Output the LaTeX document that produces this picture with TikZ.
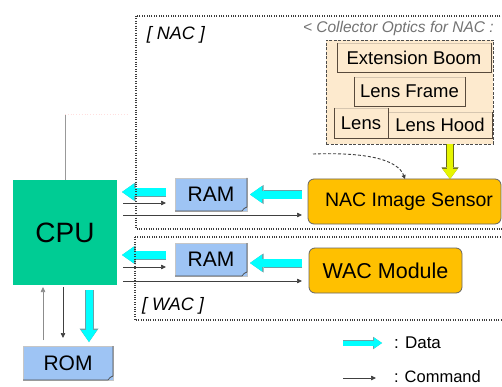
\documentclass[tikz,border=0pt]{standalone}
\usepackage{fontspec}
\setmainfont{Liberation Sans}
\usetikzlibrary{arrows.meta,calc}

\definecolor{cpugreen}{RGB}{0,204,148}
\definecolor{ramblue}{RGB}{158,196,244}
\definecolor{unitorange}{RGB}{255,192,0}
\definecolor{opticpeach}{RGB}{253,234,206}
\definecolor{opticlight}{RGB}{214,198,176}
\definecolor{opticdark}{RGB}{88,74,60}
\definecolor{flowcyan}{RGB}{0,255,255}
\definecolor{flowedge}{RGB}{110,160,165}
\definecolor{beamyellow}{RGB}{230,245,0}
\definecolor{beamedge}{RGB}{105,105,25}
\definecolor{frameline}{RGB}{60,60,60}

\newcommand{\fsz}[1]{\fontsize{#1}{#1}\selectfont}

\begin{document}
\begin{tikzpicture}[x=1pt,y=-1pt,
  every node/.style={inner sep=0pt,outer sep=0pt},
  cpubox/.style={fill=cpugreen,minimum width=104pt,minimum height=105pt,font=\fsz{28}},
  membox/.style={fill=ramblue,draw=gray!45,line width=0.4pt,font=\fsz{21}},
  memshade/.style={draw=black!70,line width=0.7pt},
  unitbox/.style={fill=unitorange,draw=black!60,line width=0.8pt,rounded corners=6pt},
  opticframe/.style={fill=opticpeach,draw=black!70,line width=0.8pt,dash pattern=on 3pt off 1.5pt},
  opticbox/.style={fill=opticpeach,draw=opticlight,line width=0.8pt,font=\fsz{18.5}},
  opticshade/.style={draw=opticdark,line width=0.8pt},
  framebox/.style={draw=frameline,line width=1.2pt,dash pattern=on 1pt off 1.4pt},
  framelabel/.style={font=\fsz{18}\itshape},
  dataflow/.style={flowcyan,line width=8pt,-{Triangle[length=12pt,width=17pt,line width=0pt]},
    preaction={draw=flowedge,line width=9pt,-{Triangle[length=13.5pt,width=19pt,line width=0pt]}}},
  cmdflow/.style={draw=black!75,line width=0.7pt,-{Triangle[length=5pt,width=4.5pt]}},
  beamflow/.style={beamyellow,line width=6pt,-{Triangle[length=10pt,width=15pt,line width=0pt]},
    preaction={draw=beamedge,line width=7.6pt,-{Triangle[length=11.5pt,width=17pt,line width=0pt]}}},
  hintflow/.style={draw=black!75,line width=0.9pt,dash pattern=on 3pt off 2pt,-{Triangle[length=4pt,width=4pt]}}
]
\clip (0,0) rectangle (502,387);
\fill[white] (0,0) rectangle (502,387);

% collector optics stack
\node[opticframe,minimum width=167pt,minimum height=104pt] (optics) at (409.5,92) {};
\node[opticbox,minimum width=154pt,minimum height=29pt] (boom) at (414,57.5) {Extension Boom};
\node[opticbox,minimum width=111pt,minimum height=29pt] (frame) at (409.5,91.5) {Lens Frame};
\node[opticbox,minimum width=104pt,minimum height=26pt] (hood) at (440,125) {Lens Hood};
\node[opticbox,minimum width=54pt,minimum height=30pt] (lens) at (361,123) {Lens};
\foreach \n in {boom,frame,hood,lens}
  \draw[opticshade] (\n.north west) -- (\n.south west) -- (\n.south east) -- (\n.north east);
\node[anchor=west,text=black!55,font=\fsz{15.5}\itshape] (optitle) at (303,28) {< Collector Optics for NAC :};

% processing units
\node[cpubox] (cpu) at (65,232.5) {CPU};
\node[membox,minimum width=72pt,minimum height=33pt] (ramnac) at (211,194.5) {RAM};
\node[membox,minimum width=72pt,minimum height=33pt] (ramwac) at (211,259.5) {RAM};
\node[membox,minimum width=90pt,minimum height=34pt] (rom) at (68,363) {ROM};
\foreach \n in {ramnac,ramwac,rom}
  \draw[memshade] (\n.north east) -- ($(\n.south east)+(0,-4)$) -- ($(\n.south east)+(-3,-2.5)$)
    -- ($(\n.south east)+(-5,0)$) -- (\n.south west);

% camera heads
\node[unitbox,minimum width=193pt,minimum height=45pt,font=\fsz{19.5}] (nacsensor) at (404.5,201.5) {\hspace*{9pt}NAC Image Sensor};
\node[unitbox,minimum width=153pt,minimum height=45pt,font=\fsz{21.5}] (wacmod) at (385.5,270.5) {WAC Module};

% bus line above the CPU
\coordinate (busend) at (65,114);
\draw[draw=gray!80,line width=1pt] (cpu.north) -- (busend);
\draw[draw=pink!50,line width=0.8pt,dotted] (busend) -- ++(63,0);

% light path into the sensor
\coordinate (beam) at (450,160);
\draw[beamflow] (beam |- optics.south) -- (beam |- nacsensor.north);
\coordinate (hint) at (313,154);
\draw[hintflow] (hint) .. controls (368,152) and (398,160) .. ([xshift=97pt]nacsensor.north west);

% NAC data and commands
\draw[dataflow,shorten <=6pt,shorten >=3pt] (nacsensor.west |- ramnac.east) -- (ramnac.east);
\draw[dataflow,shorten <=9pt,shorten >=5pt] ($(ramnac.west)+(0,-2.5)$) -- ($(ramnac.west -| cpu.east)+(0,-2.5)$);
\draw[cmdflow,shorten <=6pt,shorten >=9pt] ($(cpu.east |- ramnac.west)+(0,8.5)$) -- ($(ramnac.west)+(0,8.5)$);
\draw[cmdflow,shorten <=6pt,shorten >=6pt] ($(cpu.east |- nacsensor.west)+(0,13.5)$) -- ($(nacsensor.west)+(0,13.5)$);

% WAC data and commands
\draw[dataflow,shorten <=7pt,shorten >=3pt] ($(wacmod.west |- ramwac.east)+(0,3.5)$) -- ($(ramwac.east)+(0,3.5)$);
\draw[dataflow,shorten <=9pt,shorten >=5pt] ($(ramwac.west)+(0,-4.5)$) -- ($(ramwac.west -| cpu.east)+(0,-4.5)$);
\draw[cmdflow,shorten <=6pt,shorten >=9pt] ($(cpu.east |- ramwac.west)+(0,7.5)$) -- ($(ramwac.west)+(0,7.5)$);
\draw[cmdflow,shorten <=6pt,shorten >=7pt] ($(cpu.east |- wacmod.west)+(0,10.5)$) -- ($(wacmod.west)+(0,10.5)$);

% CPU and ROM
\draw[cmdflow,draw=black!45,shorten <=6pt,shorten >=2pt] ($(rom.north)+(-25,0)$) -- ($(cpu.south)+(-22,0)$);
\draw[cmdflow,shorten <=2pt,shorten >=8pt] ($(cpu.south)+(-2,0)$) -- ($(rom.north)+(-5,0)$);
\draw[dataflow,line width=7pt,shorten <=5pt,shorten >=4pt,
  -{Triangle[length=12pt,width=16pt,line width=0pt]}] ($(cpu.south)+(24,0)$) -- ($(rom.north)+(21,0)$);

% NAC and WAC groupings
\draw[framebox] (136,16) rectangle (530,229);
\draw[framebox] (135,237) rectangle (530,320);
\node[framelabel] (naclabel) at (176,35) {[ NAC ]};
\node[framelabel] (waclabel) at (173,306) {[ WAC ]};

% legend
\coordinate (dataA) at (343,343);
\coordinate (dataB) at (382,343);
\draw[flowcyan,line width=5pt,-{Triangle[length=8pt,width=11pt,line width=0pt]},
  preaction={draw=flowedge,line width=6pt,-{Triangle[length=9pt,width=12.5pt,line width=0pt]}}] (dataA) -- (dataB);
\node[anchor=west,font=\fsz{17}] (datakey) at (394,343) {: Data};
\coordinate (cmdA) at (343,378);
\coordinate (cmdB) at (376,378);
\draw[cmdflow] (cmdA) -- (cmdB);
\node[anchor=west,font=\fsz{16.5}] (cmdkey) at (394,376.5) {: Command};
\end{tikzpicture}
\end{document}
